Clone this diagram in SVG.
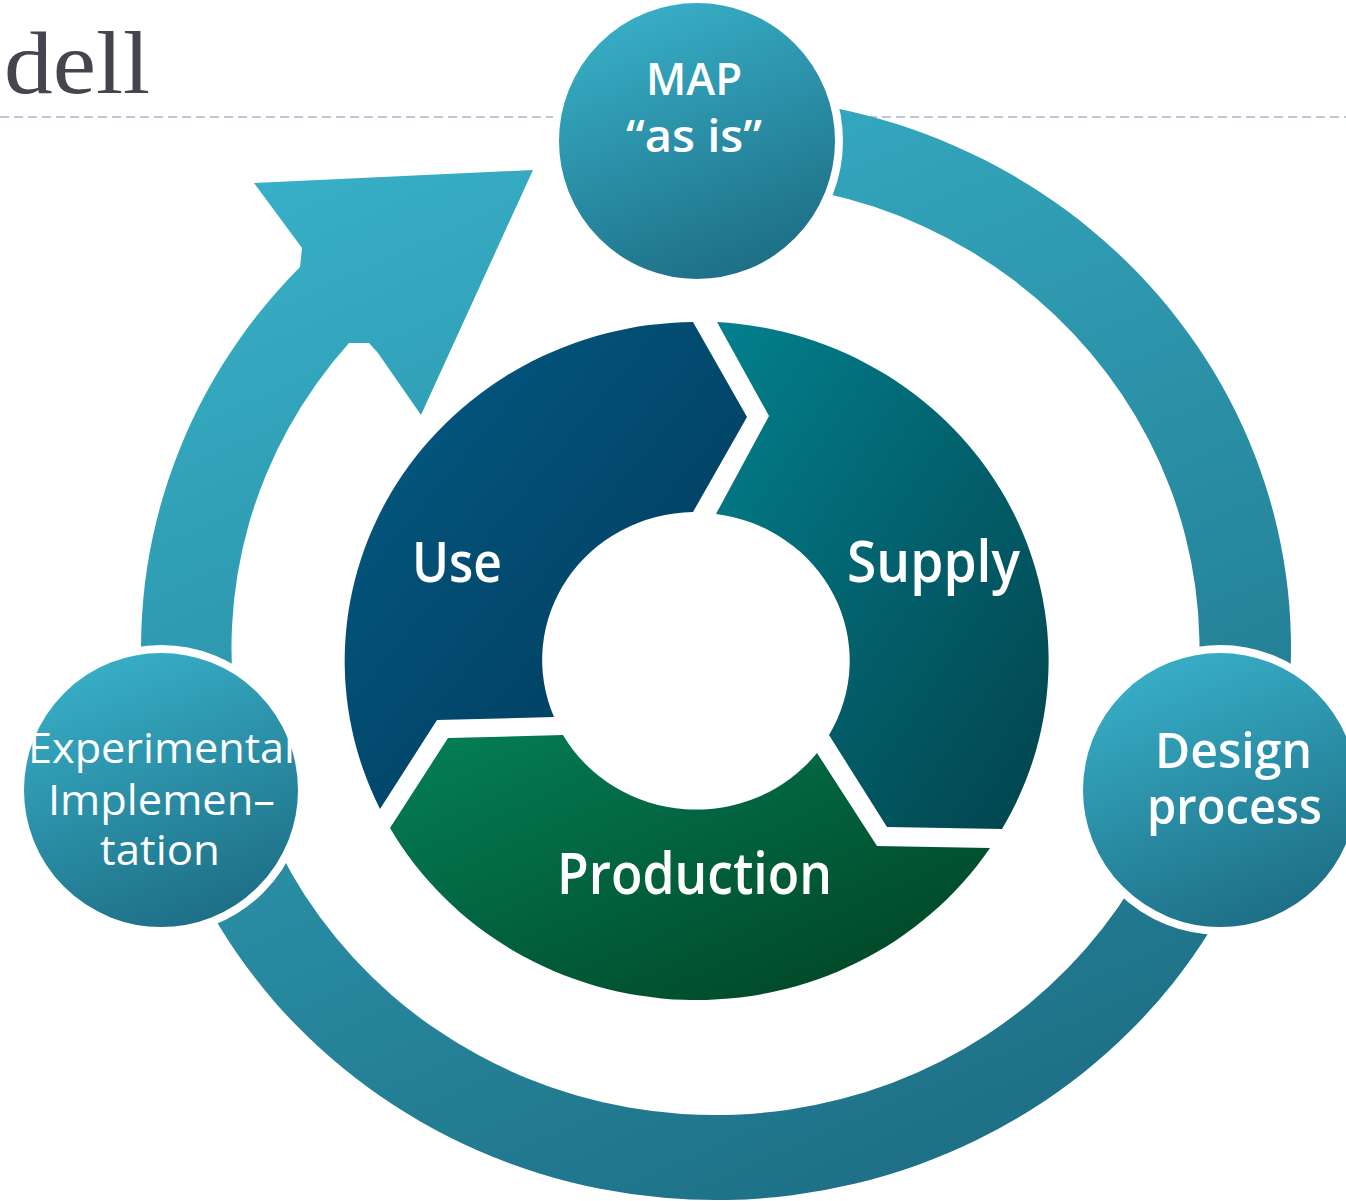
<svg xmlns="http://www.w3.org/2000/svg" width="1346" height="1201" viewBox="0 0 1346 1201">
<defs>
<style>
.lbl{font-family:"Open Sans","Noto Sans","DejaVu Sans",sans-serif;fill:#ffffff;font-weight:600}
.lbl2{font-family:"Open Sans","Noto Sans","DejaVu Sans",sans-serif;fill:#ffffff;font-weight:500}
.bubble{stroke:#ffffff;stroke-width:8;fill:url(#gCircle)}
</style>
<linearGradient id="gRing" gradientUnits="userSpaceOnUse" x1="420" y1="120" x2="900" y2="1200">
<stop offset="0" stop-color="#37AFC6"/>
<stop offset="1" stop-color="#1D6F85"/>
</linearGradient>
<linearGradient id="gCircle" x1="0.3" y1="0" x2="0.7" y2="1">
<stop offset="0" stop-color="#38B0C8"/>
<stop offset="1" stop-color="#1C6C83"/>
</linearGradient>
<linearGradient id="gUse" x1="0" y1="0" x2="1" y2="1">
<stop offset="0" stop-color="#045C86"/>
<stop offset="1" stop-color="#013656"/>
</linearGradient>
<linearGradient id="gSupply" x1="0" y1="0" x2="1" y2="1">
<stop offset="0" stop-color="#03808E"/>
<stop offset="1" stop-color="#02434C"/>
</linearGradient>
<linearGradient id="gProd" x1="0" y1="0" x2="1" y2="1">
<stop offset="0" stop-color="#048058"/>
<stop offset="1" stop-color="#003F20"/>
</linearGradient>
</defs>
<rect width="1346" height="1201" fill="#ffffff"/>
<g id="title">
<text x="4" y="93" font-family="'Liberation Serif','DejaVu Serif',serif" font-size="88" fill="#46454F" textLength="146" lengthAdjust="spacingAndGlyphs">dell</text>
</g>
<g id="divider">
<line x1="0" y1="117" x2="1346" y2="117" stroke="#A3B7D0" stroke-width="1.6" stroke-dasharray="9 5"/>
</g>
<g id="connectors">
<path id="cycle-arrow" fill="url(#gRing)" d="M 770 98.5 A 575 552 0 1 1 300 267 L 302 248 L 254 183 L 533 170 L 421 415 L 378 353 L 369 343 L 349 343 A 484 467 0 1 0 770 184 Z"/>
</g>
<g id="use">
<path fill="url(#gUse)" d="M 380 809 A 352 339 0 0 1 693 322 L 747 417 L 693 512 A 153.5 148 0 0 0 554 717 L 437 720 Z"/>
<text class="lbl" x="412" y="582" font-size="56" textLength="90" lengthAdjust="spacingAndGlyphs">Use</text>
</g>
<g id="supply">
<path fill="url(#gSupply)" d="M 717 322 A 352 339 0 0 1 1002 829 L 887 827 L 829 735 A 153.5 148 0 0 0 716 514 L 769 416 Z"/>
<text class="lbl" x="847" y="582" font-size="57" textLength="173" lengthAdjust="spacingAndGlyphs">Supply</text>
</g>
<g id="production">
<path fill="url(#gProd)" d="M 990 848 A 352 339 0 0 1 390 828 L 448 738 L 563 735 A 153.5 148 0 0 0 817 753 L 877 846 Z"/>
<text class="lbl" x="557" y="894" font-size="57" textLength="275" lengthAdjust="spacingAndGlyphs">Production</text>
</g>
<g id="map-as-is">
<circle class="bubble" cx="697" cy="141" r="142"/>
<text class="lbl" x="646" y="95" font-size="46" textLength="96" lengthAdjust="spacingAndGlyphs">MAP</text>
<text class="lbl" x="626" y="152" font-size="46" textLength="136" lengthAdjust="spacingAndGlyphs">“as is”</text>
</g>
<g id="design-process">
<circle class="bubble" cx="1220" cy="790" r="141"/>
<text class="lbl" x="1155" y="768" font-size="49" textLength="157" lengthAdjust="spacingAndGlyphs">Design</text>
<text class="lbl" x="1147" y="824" font-size="49" textLength="175" lengthAdjust="spacingAndGlyphs">process</text>
</g>
<g id="experimental-implementation">
<circle class="bubble" cx="161" cy="790" r="141"/>
<text class="lbl2" x="28" y="763" font-size="42" textLength="267" lengthAdjust="spacingAndGlyphs">Experimental</text>
<text class="lbl2" x="48" y="815" font-size="42" textLength="227" lengthAdjust="spacingAndGlyphs">Implemen–</text>
<text class="lbl2" x="100" y="865" font-size="42" textLength="120" lengthAdjust="spacingAndGlyphs">tation</text>
</g>
</svg>
